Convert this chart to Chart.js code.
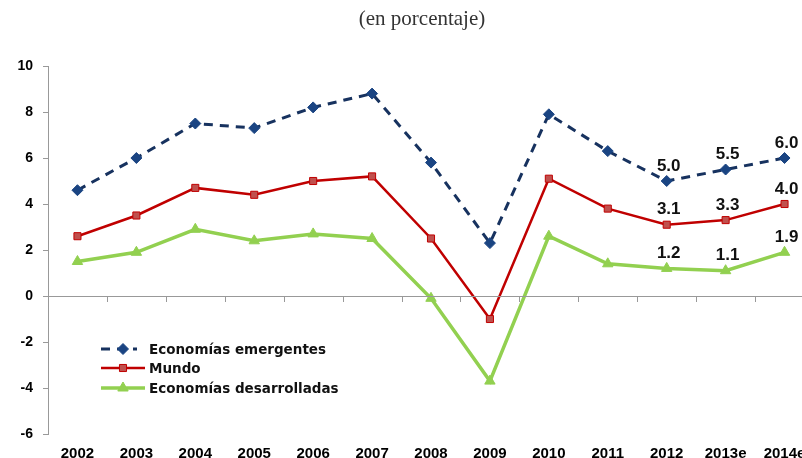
<!DOCTYPE html>
<html>
<head>
<meta charset="utf-8">
<script src="https://cdn.jsdelivr.net/npm/chart.js@4.4.1/dist/chart.umd.min.js"></script>
<style>
  html, body { margin: 0; padding: 0; background: #fff; overflow: hidden; }
  #wrap { width: 802px; height: 458px; overflow: hidden; position: relative; }
</style>
</head>
<body>
<div id="wrap"><canvas id="growthChart" width="830" height="458"></canvas></div>
<script>
var years = ['2002', '2003', '2004', '2005', '2006', '2007', '2008', '2009', '2010', '2011', '2012', '2013e', '2014e'];
var emergentes = [4.6, 6.0, 7.5, 7.3, 8.2, 8.8, 5.8, 2.3, 7.9, 6.3, 5.0, 5.5, 6.0];
var mundo = [2.6, 3.5, 4.7, 4.4, 5.0, 5.2, 2.5, -1.0, 5.1, 3.8, 3.1, 3.3, 4.0];
var desarrolladas = [1.5, 1.9, 2.9, 2.4, 2.7, 2.5, -0.1, -3.7, 2.6, 1.4, 1.2, 1.1, 1.9];
var labeledFrom = 10; // value labels only on 2012 onwards

var ctx = document.getElementById('growthChart').getContext('2d');

// title, zero line ticks, value labels and the legend box
var extras = {
  id: 'extras',
  afterDraw: function(chart) {
    var c = chart.ctx;
    var x = chart.scales.x, y = chart.scales.y;
    var y0 = y.getPixelForValue(0);
    c.save();

    c.fillStyle = '#333';
    c.font = '21px "Liberation Serif", serif';
    c.textAlign = 'center';
    c.textBaseline = 'middle';
    c.fillText('(en porcentaje)', 422, 19);

    c.strokeStyle = '#999';
    c.lineWidth = 1;
    c.beginPath();
    c.moveTo(chart.chartArea.left, y0 + 0.5);
    c.lineTo(chart.chartArea.right, y0 + 0.5);
    for (var i = 0; i < years.length; i++) {
      var tx = Math.round(x.getPixelForValue(i + 0.5)) + 0.5;
      c.moveTo(tx, y0);
      c.lineTo(tx, y0 + 6);
    }
    c.stroke();

    c.fillStyle = '#111';
    c.font = 'bold 17px "Liberation Sans", Arial, sans-serif';
    chart.data.datasets.forEach(function(ds, di) {
      var meta = chart.getDatasetMeta(di);
      for (var i = labeledFrom; i < ds.data.length; i++) {
        var p = meta.data[i];
        c.fillText(ds.data[i].toFixed(1), p.x + 2, p.y - 15);
      }
    });

    var lx = 101, textX = 149, rows = [349, 368, 388];
    c.textAlign = 'left';
    c.font = 'bold 13.5px "DejaVu Sans", sans-serif';
    chart.data.datasets.forEach(function(ds, di) {
      var ry = rows[di];
      c.save();
      c.strokeStyle = ds.borderColor;
      c.lineWidth = ds.borderWidth;
      c.setLineDash(ds.borderDash || []);
      c.beginPath();
      c.moveTo(lx, ry);
      c.lineTo(di === 0 ? 137 : 145, ry);
      c.stroke();
      c.restore();

      c.save();
      c.fillStyle = ds.pointBackgroundColor;
      c.strokeStyle = ds.pointBorderColor;
      c.lineWidth = 1;
      Chart.helpers.drawPoint(c, {
        pointStyle: ds.pointStyle,
        radius: ds.pointRadius,
        borderWidth: 1
      }, 123, ry);
      c.restore();

      c.fillStyle = '#111';
      c.fillText(ds.label, textX, ry + 1);
    });
    c.restore();
  }
};

var chart = new Chart(ctx, {
  type: 'line',
  data: {
    labels: years,
    datasets: [
      {
        label: 'Economías emergentes',
        data: emergentes,
        borderColor: '#17325F',
        borderWidth: 3,
        borderDash: [9, 7],
        pointStyle: 'rectRot',
        pointRadius: 5.5,
        pointBackgroundColor: '#1A4482',
        pointBorderColor: '#1A4482',
        pointBorderWidth: 1,
        tension: 0
      },
      {
        label: 'Mundo',
        data: mundo,
        borderColor: '#C00000',
        borderWidth: 2.5,
        pointStyle: 'rect',
        pointRadius: 5,
        pointBackgroundColor: '#C0504D',
        pointBorderColor: '#C00000',
        pointBorderWidth: 1,
        tension: 0
      },
      {
        label: 'Economías desarrolladas',
        data: desarrolladas,
        borderColor: '#92D050',
        borderWidth: 3.5,
        pointStyle: 'triangle',
        pointRadius: 6,
        pointBackgroundColor: '#92D050',
        pointBorderColor: '#92D050',
        pointBorderWidth: 1,
        tension: 0
      }
    ]
  },
  options: {
    responsive: false,
    animation: false,
    layout: { padding: { top: 66, right: 16, left: 0, bottom: 0 } },
    plugins: {
      legend: { display: false },
      tooltip: { enabled: false }
    },
    scales: {
      x: {
        offset: true,
        grid: { display: false },
        border: { display: false },
        ticks: {
          color: '#000',
          padding: 3,
          maxRotation: 0,
          autoSkip: false,
          font: { family: '"Liberation Sans", Arial, sans-serif', size: 15, weight: 'bold' }
        },
        afterFit: function(s) { s.height = 24; }
      },
      y: {
        min: -6,
        max: 10,
        ticks: {
          stepSize: 2,
          color: '#000',
          padding: 10,
          font: { family: '"Liberation Sans", Arial, sans-serif', size: 14, weight: 'bold' }
        },
        grid: { drawOnChartArea: false, tickLength: 5, color: '#999' },
        border: { color: '#999', width: 1 },
        afterFit: function(s) { s.width = 48; }
      }
    }
  },
  plugins: [extras]
});
</script>
</body>
</html>
